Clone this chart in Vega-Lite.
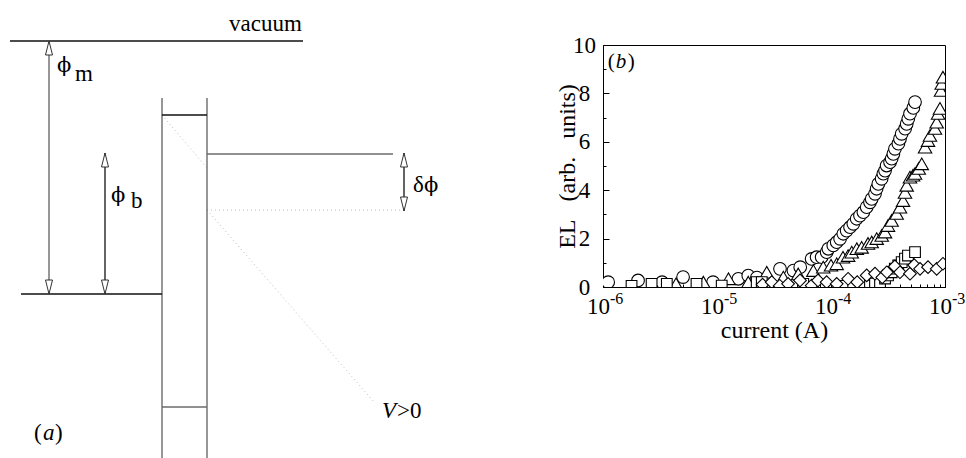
{
  "$schema": "https://vega.github.io/schema/vega-lite/v6.json",
  "padding": 0,
  "autosize": {"type": "pad"},
  "background": "white",
  "spacing": 123,
  "bounds": "flush",
  "config": {
    "view": {"stroke": null},
    "font": "Liberation Serif",
    "text": {"font": "Liberation Serif", "color": "black"}
  },
  "datasets": {
    "blackLines": [
      {"x": 10, "y": 41, "x2": 303, "y2": 41},
      {"x": 21, "y": 294, "x2": 162, "y2": 294},
      {"x": 162, "y": 115, "x2": 207, "y2": 115},
      {"x": 404, "y": 153, "x2": 404, "y2": 211},
      {"x": 105, "y": 153, "x2": 105, "y2": 294}
    ],
    "grayLines": [
      {"x": 49, "y": 41, "x2": 49, "y2": 294},
      {"x": 162, "y": 98, "x2": 162, "y2": 458},
      {"x": 207, "y": 98, "x2": 207, "y2": 458},
      {"x": 162, "y": 407, "x2": 207, "y2": 407},
      {"x": 207, "y": 154, "x2": 393, "y2": 154}
    ],
    "dottedLines": [
      {"x": 207, "y": 210, "x2": 404, "y2": 210},
      {"x": 162, "y": 115, "x2": 207, "y2": 168},
      {"x": 207, "y": 210, "x2": 374, "y2": 402}
    ],
    "arrowUp": [
      {"x": 49, "y": 41},
      {"x": 105, "y": 153},
      {"x": 404, "y": 153}
    ],
    "arrowDown": [
      {"x": 49, "y": 294},
      {"x": 105, "y": 294},
      {"x": 404, "y": 211}
    ],
    "diagramText": [
      {"x": 229, "y": 31, "t": "vacuum"},
      {"x": 75, "y": 81, "t": "m"},
      {"x": 131, "y": 208, "t": "b"},
      {"x": 413, "y": 192, "t": "δ"},
      {"x": 397, "y": 418, "t": ">0"},
      {"x": 34, "y": 440, "t": "("},
      {"x": 55, "y": 440, "t": ")"}
    ],
    "phiText": [
      {"x": 57, "y": 72, "t": "ϕ"},
      {"x": 111, "y": 202, "t": "ϕ"},
      {"x": 424, "y": 192, "t": "ϕ"}
    ],
    "diagramItalic": [
      {"x": 382, "y": 418, "t": "V"},
      {"x": 43, "y": 440, "t": "a"}
    ],
    "panelLabel": [
      {"I": 1.1e-6, "EL": 9.3}
    ],
    "expLabels": [
      {"I": 1e-6, "EL": 0, "t": "-6"},
      {"I": 1e-5, "EL": 0, "t": "-5"},
      {"I": 1e-4, "EL": 0, "t": "-4"},
      {"I": 1e-3, "EL": 0, "t": "-3"}
    ],
    "el": [
      {"s": "circle", "I": 1.11e-6, "EL": 0.2},
      {"s": "circle", "I": 2.03e-6, "EL": 0.27},
      {"s": "circle", "I": 3.3e-6, "EL": 0.2},
      {"s": "circle", "I": 5.04e-6, "EL": 0.41},
      {"s": "circle", "I": 9.23e-6, "EL": 0.2},
      {"s": "circle", "I": 1.54e-5, "EL": 0.34},
      {"s": "circle", "I": 1.88e-5, "EL": 0.47},
      {"s": "circle", "I": 2.24e-5, "EL": 0.39},
      {"s": "circle", "I": 3.57e-5, "EL": 0.75},
      {"s": "circle", "I": 4.68e-5, "EL": 0.68},
      {"s": "circle", "I": 5.37e-5, "EL": 0.82},
      {"s": "circle", "I": 6.76e-5, "EL": 1.16},
      {"s": "circle", "I": 7.48e-5, "EL": 1.23},
      {"s": "circle", "I": 8.28e-5, "EL": 1.23},
      {"s": "circle", "I": 9.16e-5, "EL": 1.44},
      {"s": "circle", "I": 9.48e-5, "EL": 1.58},
      {"s": "circle", "I": 1.047e-4, "EL": 1.72},
      {"s": "circle", "I": 1.122e-4, "EL": 1.85},
      {"s": "circle", "I": 1.202e-4, "EL": 1.99},
      {"s": "circle", "I": 1.282e-4, "EL": 2.2},
      {"s": "circle", "I": 1.371e-4, "EL": 2.33},
      {"s": "circle", "I": 1.469e-4, "EL": 2.47},
      {"s": "circle", "I": 1.57e-4, "EL": 2.61},
      {"s": "circle", "I": 1.679e-4, "EL": 2.82},
      {"s": "circle", "I": 1.795e-4, "EL": 2.95},
      {"s": "circle", "I": 1.923e-4, "EL": 3.09},
      {"s": "circle", "I": 2.056e-4, "EL": 3.3},
      {"s": "circle", "I": 2.198e-4, "EL": 3.5},
      {"s": "circle", "I": 2.275e-4, "EL": 3.64},
      {"s": "circle", "I": 2.432e-4, "EL": 3.85},
      {"s": "circle", "I": 2.512e-4, "EL": 4.06},
      {"s": "circle", "I": 2.6e-4, "EL": 4.26},
      {"s": "circle", "I": 2.78e-4, "EL": 4.47},
      {"s": "circle", "I": 2.877e-4, "EL": 4.68},
      {"s": "circle", "I": 2.979e-4, "EL": 4.81},
      {"s": "circle", "I": 3.076e-4, "EL": 5.02},
      {"s": "circle", "I": 3.296e-4, "EL": 5.16},
      {"s": "circle", "I": 3.404e-4, "EL": 5.3},
      {"s": "circle", "I": 3.524e-4, "EL": 5.5},
      {"s": "circle", "I": 3.639e-4, "EL": 5.71},
      {"s": "circle", "I": 3.899e-4, "EL": 5.92},
      {"s": "circle", "I": 4.027e-4, "EL": 6.12},
      {"s": "circle", "I": 4.169e-4, "EL": 6.33},
      {"s": "circle", "I": 4.467e-4, "EL": 6.54},
      {"s": "circle", "I": 4.613e-4, "EL": 6.74},
      {"s": "circle", "I": 4.764e-4, "EL": 6.95},
      {"s": "circle", "I": 4.932e-4, "EL": 7.16},
      {"s": "circle", "I": 5.272e-4, "EL": 7.4},
      {"s": "circle", "I": 5.458e-4, "EL": 7.64},
      {"s": "triangle", "I": 4.37e-6, "EL": 0.13},
      {"s": "triangle", "I": 7.59e-6, "EL": 0.2},
      {"s": "triangle", "I": 1.26e-5, "EL": 0.34},
      {"s": "triangle", "I": 1.88e-5, "EL": 0.2},
      {"s": "triangle", "I": 2.73e-5, "EL": 0.61},
      {"s": "triangle", "I": 3.82e-5, "EL": 0.41},
      {"s": "triangle", "I": 5.16e-5, "EL": 0.54},
      {"s": "triangle", "I": 7.0e-5, "EL": 0.68},
      {"s": "triangle", "I": 8.55e-5, "EL": 0.82},
      {"s": "triangle", "I": 1.0e-4, "EL": 0.9},
      {"s": "triangle", "I": 1.122e-4, "EL": 0.96},
      {"s": "triangle", "I": 1.274e-4, "EL": 1.23},
      {"s": "triangle", "I": 1.413e-4, "EL": 1.3},
      {"s": "triangle", "I": 1.521e-4, "EL": 1.44},
      {"s": "triangle", "I": 1.683e-4, "EL": 1.58},
      {"s": "triangle", "I": 1.858e-4, "EL": 1.64},
      {"s": "triangle", "I": 2.113e-4, "EL": 1.8},
      {"s": "triangle", "I": 2.275e-4, "EL": 1.86},
      {"s": "triangle", "I": 2.518e-4, "EL": 2.0},
      {"s": "triangle", "I": 2.786e-4, "EL": 2.13},
      {"s": "triangle", "I": 2.979e-4, "EL": 2.27},
      {"s": "triangle", "I": 3.162e-4, "EL": 2.54},
      {"s": "triangle", "I": 3.404e-4, "EL": 2.75},
      {"s": "triangle", "I": 3.767e-4, "EL": 3.04},
      {"s": "triangle", "I": 4.027e-4, "EL": 3.3},
      {"s": "triangle", "I": 4.285e-4, "EL": 3.57},
      {"s": "triangle", "I": 4.457e-4, "EL": 3.91},
      {"s": "triangle", "I": 4.613e-4, "EL": 4.2},
      {"s": "triangle", "I": 4.932e-4, "EL": 4.54},
      {"s": "triangle", "I": 5.248e-4, "EL": 4.62},
      {"s": "triangle", "I": 5.458e-4, "EL": 4.69},
      {"s": "triangle", "I": 5.888e-4, "EL": 4.9},
      {"s": "triangle", "I": 6.252e-4, "EL": 5.09},
      {"s": "triangle", "I": 6.683e-4, "EL": 5.78},
      {"s": "triangle", "I": 7.096e-4, "EL": 6.05},
      {"s": "triangle", "I": 7.379e-4, "EL": 6.26},
      {"s": "triangle", "I": 8.166e-4, "EL": 6.55},
      {"s": "triangle", "I": 8.453e-4, "EL": 6.81},
      {"s": "triangle", "I": 8.69e-4, "EL": 7.17},
      {"s": "triangle", "I": 9.036e-4, "EL": 7.38},
      {"s": "triangle", "I": 9.226e-4, "EL": 8.12},
      {"s": "triangle", "I": 9.354e-4, "EL": 8.41},
      {"s": "triangle", "I": 9.594e-4, "EL": 8.67},
      {"s": "square", "I": 1.78e-6, "EL": 0.05},
      {"s": "square", "I": 2.67e-6, "EL": 0.13},
      {"s": "square", "I": 3.63e-6, "EL": 0.13},
      {"s": "square", "I": 6.61e-6, "EL": 0.13},
      {"s": "square", "I": 1.1e-5, "EL": 0.06},
      {"s": "square", "I": 2.23e-5, "EL": 0.2},
      {"s": "square", "I": 2.47e-5, "EL": 0.2},
      {"s": "square", "I": 5.71e-5, "EL": 0.13},
      {"s": "square", "I": 1.26e-4, "EL": 0.05},
      {"s": "square", "I": 2.198e-4, "EL": 0.06},
      {"s": "square", "I": 2.432e-4, "EL": 0.14},
      {"s": "square", "I": 2.692e-4, "EL": 0.2},
      {"s": "square", "I": 2.979e-4, "EL": 0.35},
      {"s": "square", "I": 3.162e-4, "EL": 0.48},
      {"s": "square", "I": 3.404e-4, "EL": 0.61},
      {"s": "square", "I": 3.631e-4, "EL": 0.76},
      {"s": "square", "I": 3.89e-4, "EL": 0.89},
      {"s": "square", "I": 4.169e-4, "EL": 1.03},
      {"s": "square", "I": 4.457e-4, "EL": 1.17},
      {"s": "square", "I": 4.732e-4, "EL": 1.3},
      {"s": "square", "I": 5.458e-4, "EL": 1.44},
      {"s": "diamond", "I": 2.51e-5, "EL": 0.1},
      {"s": "diamond", "I": 3.02e-5, "EL": 0.2},
      {"s": "diamond", "I": 3.55e-5, "EL": 0.05},
      {"s": "diamond", "I": 4.2e-5, "EL": 0.13},
      {"s": "diamond", "I": 5.35e-5, "EL": 0.27},
      {"s": "diamond", "I": 6.76e-5, "EL": 0.06},
      {"s": "diamond", "I": 7.69e-5, "EL": 0.27},
      {"s": "diamond", "I": 9.16e-5, "EL": 0.2},
      {"s": "diamond", "I": 1.122e-4, "EL": 0.13},
      {"s": "diamond", "I": 1.413e-4, "EL": 0.34},
      {"s": "diamond", "I": 1.698e-4, "EL": 0.2},
      {"s": "diamond", "I": 2.056e-4, "EL": 0.48},
      {"s": "diamond", "I": 2.432e-4, "EL": 0.55},
      {"s": "diamond", "I": 2.818e-4, "EL": 0.4},
      {"s": "diamond", "I": 3.09e-4, "EL": 0.61},
      {"s": "diamond", "I": 3.631e-4, "EL": 0.85},
      {"s": "diamond", "I": 4.027e-4, "EL": 0.61},
      {"s": "diamond", "I": 4.932e-4, "EL": 0.55},
      {"s": "diamond", "I": 5.37e-4, "EL": 0.9},
      {"s": "diamond", "I": 6.039e-4, "EL": 0.75},
      {"s": "diamond", "I": 7.096e-4, "EL": 0.82},
      {"s": "diamond", "I": 8.453e-4, "EL": 0.75},
      {"s": "diamond", "I": 9.594e-4, "EL": 0.96}
    ]
  },
  "hconcat": [
    {
      "width": 480,
      "height": 458,
      "encoding": {
        "x": {"field": "x", "type": "quantitative", "scale": {"domain": [0, 480], "nice": false, "zero": false}, "axis": null},
        "y": {"field": "y", "type": "quantitative", "scale": {"domain": [0, 458], "nice": false, "zero": false, "reverse": true}, "axis": null}
      },
      "layer": [
        {
          "data": {"name": "dottedLines"},
          "mark": {"type": "rule", "color": "#bdbdbd", "strokeWidth": 1, "strokeDash": [1, 3]},
          "encoding": {"x2": {"field": "x2"}, "y2": {"field": "y2"}}
        },
        {
          "data": {"name": "grayLines"},
          "mark": {"type": "rule", "color": "#6b6b6b", "strokeWidth": 1.4},
          "encoding": {"x2": {"field": "x2"}, "y2": {"field": "y2"}}
        },
        {
          "data": {"name": "blackLines"},
          "mark": {"type": "rule", "color": "#111111", "strokeWidth": 1.3},
          "encoding": {"x2": {"field": "x2"}, "y2": {"field": "y2"}}
        },
        {
          "data": {"name": "arrowUp"},
          "mark": {"type": "point", "shape": "M0,0L-0.5,2L0.5,2Z", "size": 196, "filled": true, "fill": "white", "stroke": "#333333", "strokeWidth": 1, "opacity": 1}
        },
        {
          "data": {"name": "arrowDown"},
          "mark": {"type": "point", "shape": "M0,0L-0.5,-2L0.5,-2Z", "size": 196, "filled": true, "fill": "white", "stroke": "#333333", "strokeWidth": 1, "opacity": 1}
        },
        {
          "data": {"name": "diagramText"},
          "mark": {"type": "text", "align": "left", "baseline": "alphabetic", "fontSize": 23, "font": "Liberation Serif", "color": "black"},
          "encoding": {"text": {"field": "t"}}
        },
        {
          "data": {"name": "phiText"},
          "mark": {"type": "text", "align": "left", "baseline": "alphabetic", "fontSize": 21, "font": "DejaVu Serif", "color": "black"},
          "encoding": {"text": {"field": "t"}}
        },
        {
          "data": {"name": "diagramItalic"},
          "mark": {"type": "text", "align": "left", "baseline": "alphabetic", "fontSize": 23, "font": "Liberation Serif", "fontStyle": "italic", "color": "black"},
          "encoding": {"text": {"field": "t"}}
        }
      ]
    },
    {
      "spacing": 0,
      "bounds": "flush",
      "vconcat": [
        {
          "width": 342,
          "height": 45,
          "data": {"values": []},
          "mark": {"type": "point"}
        },
        {
          "width": 342,
          "height": 242,
          "view": {"stroke": "black", "strokeWidth": 1},
          "data": {"name": "el"},
          "encoding": {
            "x": {
              "field": "I",
              "type": "quantitative",
              "scale": {"type": "log", "domain": [1e-6, 1e-3], "nice": false},
              "axis": {
                "values": [1e-6, 2e-6, 3e-6, 4e-6, 5e-6, 6e-6, 7e-6, 8e-6, 9e-6, 1e-5, 2e-5, 3e-5, 4e-5, 5e-5, 6e-5, 7e-5, 8e-5, 9e-5, 1e-4, 2e-4, 3e-4, 4e-4, 5e-4, 6e-4, 7e-4, 8e-4, 9e-4, 1e-3],
                "labelExpr": "abs(log(datum.value)/LN10 - round(log(datum.value)/LN10)) < 0.01 ? '10' : ''",
                "labelOverlap": false,
                "labelFlush": false,
                "labelBaseline": "alphabetic",
                "labelOffset": -5,
                "tickSize": {"condition": {"test": "abs(log(datum.value)/LN10 - round(log(datum.value)/LN10)) < 0.01", "value": -6}, "value": -3},
                "labelPadding": 32,
                "grid": false,
                "title": "current (A)",
                "titlePadding": -3,
                "labelFont": "Liberation Serif",
                "titleFont": "Liberation Serif",
                "labelFontSize": 23,
                "titleFontSize": 24,
                "titleFontWeight": "normal",
                "labelColor": "black",
                "titleColor": "black",
                "domainColor": "black",
                "tickColor": "black"
              }
            },
            "y": {
              "field": "EL",
              "type": "quantitative",
              "scale": {"domain": [0, 10], "nice": false},
              "axis": {
                "values": [0, 1, 2, 3, 4, 5, 6, 7, 8, 9, 10],
                "labelExpr": "datum.value % 2 == 0 ? datum.label : ''",
                "labelOverlap": false,
                "labelFlush": false,
                "labelAlign": "center",
                "tickSize": {"condition": {"test": "datum.value % 2 == 0", "value": -6}, "value": -3},
                "labelPadding": 25,
                "grid": false,
                "title": "EL\u00a0\u00a0\u00a0(arb.\u00a0\u00a0\u00a0units)",
                "titlePadding": -7,
                "labelFont": "Liberation Serif",
                "titleFont": "Liberation Serif",
                "labelFontSize": 23,
                "titleFontSize": 24,
                "titleFontWeight": "normal",
                "labelColor": "black",
                "titleColor": "black",
                "domainColor": "black",
                "tickColor": "black"
              }
            }
          },
          "layer": [
            {
              "transform": [{"filter": "datum.s == 'circle'"}],
              "mark": {"type": "point", "shape": "circle", "size": 160, "filled": true, "fill": "white", "stroke": "black", "strokeWidth": 1.1, "opacity": 1, "clip": true}
            },
            {
              "transform": [{"filter": "datum.s == 'triangle'"}],
              "mark": {"type": "point", "shape": "triangle-up", "size": 180, "filled": true, "fill": "white", "stroke": "black", "strokeWidth": 1.1, "opacity": 1, "clip": true}
            },
            {
              "transform": [{"filter": "datum.s == 'square'"}],
              "mark": {"type": "point", "shape": "square", "size": 115, "filled": true, "fill": "white", "stroke": "black", "strokeWidth": 1.1, "opacity": 1, "clip": true}
            },
            {
              "transform": [{"filter": "datum.s == 'diamond'"}],
              "mark": {"type": "point", "shape": "diamond", "size": 160, "filled": true, "fill": "white", "stroke": "black", "strokeWidth": 1.1, "opacity": 1, "clip": true}
            },
            {
              "data": {"name": "panelLabel"},
              "mark": {"type": "text", "text": "(", "align": "left", "baseline": "middle", "fontSize": 21, "font": "Liberation Serif", "color": "black"}
            },
            {
              "data": {"name": "panelLabel"},
              "mark": {"type": "text", "text": "b", "align": "left", "baseline": "middle", "dx": 8, "fontSize": 21, "font": "Liberation Serif", "fontStyle": "italic", "color": "black"}
            },
            {
              "data": {"name": "panelLabel"},
              "mark": {"type": "text", "text": ")", "align": "left", "baseline": "middle", "dx": 20, "fontSize": 21, "font": "Liberation Serif", "color": "black"}
            },
            {
              "data": {"name": "expLabels"},
              "mark": {"type": "text", "align": "left", "baseline": "alphabetic", "dx": 7, "dy": 17, "fontSize": 16, "font": "Liberation Serif", "color": "black", "clip": false},
              "encoding": {"text": {"field": "t"}}
            }
          ]
        }
      ]
    }
  ]
}
